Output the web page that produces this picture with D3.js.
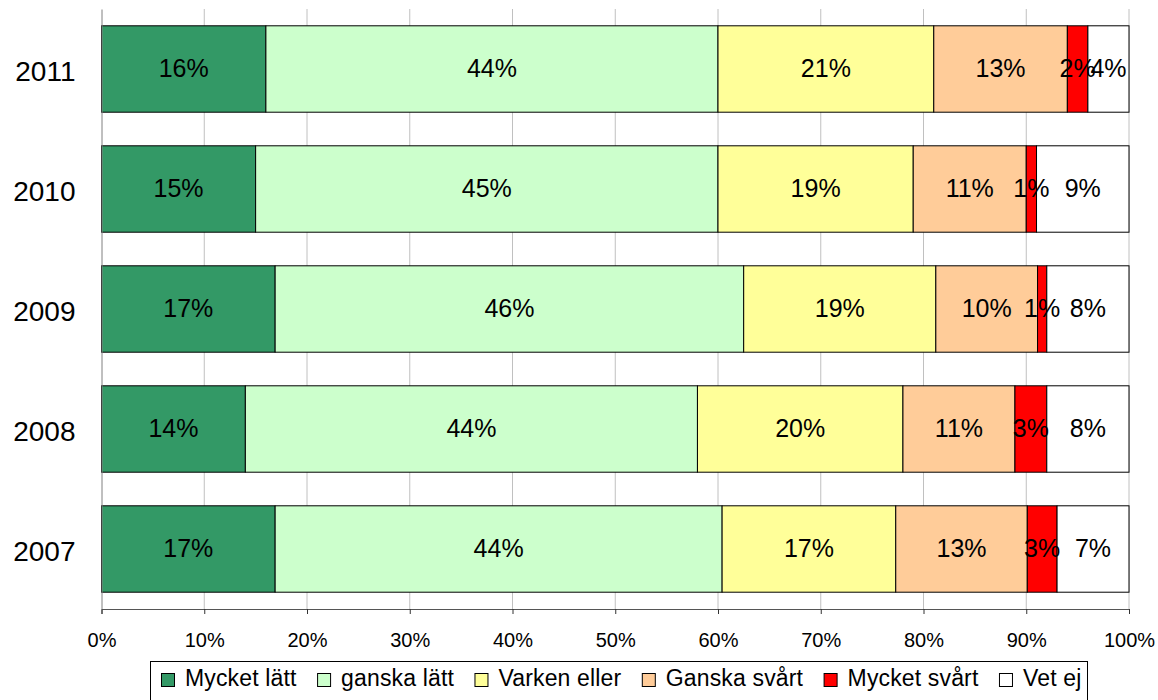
<!DOCTYPE html>
<html>
<head>
<meta charset="utf-8">
<script src="https://cdn.jsdelivr.net/npm/d3@7"></script>
<style>
  body { margin: 0; background: #fff; }
  svg { font-family: 'Liberation Sans', Arial, sans-serif; }
</style>
</head>
<body>
<div class="chart"></div>
<script>
// years, top to bottom
var years = ['2011', '2010', '2009', '2008', '2007'];
// answer categories
var categories = ['Mycket lätt', 'ganska lätt', 'Varken eller', 'Ganska svårt', 'Mycket svårt', 'Vet ej'];
var colors = ['#339966', '#ccffcc', '#ffff99', '#ffcc99', '#ff0000', '#ffffff'];
// share per category (percent), one array per year
var values2011 = [16, 44, 21, 13, 2, 4];
var values2010 = [15, 45, 19, 11, 1, 9];
var values2009 = [16.9, 45.6, 18.7, 9.9, 0.9, 8];
var values2008 = [14, 44, 20, 10.9, 3.1, 8];
var values2007 = [16.9, 43.5, 16.9, 12.8, 2.9, 7];
var tickValues = [0, 10, 20, 30, 40, 50, 60, 70, 80, 90, 100];

var rows = [values2011, values2010, values2009, values2008, values2007];

var svgWidth = 1158;
var svgHeight = 700;

var xScale = d3.scaleLinear()
    .domain([0, 100])
    .range([101.5, 1129]);

var yScale = d3.scaleBand()
    .domain(years)
    .range([9, 609])
    .paddingInner(0.28)
    .paddingOuter(0.14);

var svg = d3.select('.chart').append('svg')
    .attr('width', svgWidth)
    .attr('height', svgHeight);

// vertical gridlines
svg.append('g').selectAll('line')
    .data(tickValues.slice(1))
    .enter()
    .append('line')
    .attr('x1', function(d) { return xScale(d); })
    .attr('x2', function(d) { return xScale(d); })
    .attr('y1', 9)
    .attr('y2', 609)
    .attr('stroke', '#c0c0c0')
    .attr('stroke-width', 1);

// build stacked segments
var segments = [];
rows.forEach(function(vals, i) {
    var start = 0;
    vals.forEach(function(v, j) {
        segments.push({ year: years[i], cat: j, x0: start, x1: start + v, value: v });
        start += v;
    });
});

var bars = svg.append('g');
bars.selectAll('rect')
    .data(segments)
    .enter()
    .append('rect')
    .attr('x', function(d) { return xScale(d.x0); })
    .attr('width', function(d) { return xScale(d.x1) - xScale(d.x0); })
    .attr('y', function(d) { return yScale(d.year); })
    .attr('height', yScale.bandwidth())
    .attr('fill', function(d) { return colors[d.cat]; })
    .attr('stroke', '#000')
    .attr('stroke-width', 1);

bars.selectAll('text')
    .data(segments)
    .enter()
    .append('text')
    .attr('x', function(d) { return (xScale(d.x0) + xScale(d.x1)) / 2; })
    .attr('y', function(d) { return yScale(d.year) + yScale.bandwidth() / 2; })
    .attr('dy', '0.33em')
    .attr('text-anchor', 'middle')
    .style('font-size', '25px')
    .attr('fill', '#000')
    .text(function(d) { return Math.round(d.value) + '%'; });

// x axis
var xAxis = d3.axisBottom(xScale)
    .tickValues(tickValues)
    .tickSize(5)
    .tickPadding(18.5)
    .tickFormat(function(d) { return d + '%'; });

svg.append('g')
    .attr('transform', 'translate(0,609)')
    .style('font-size', '20px')
    .style('font-family', "'Liberation Sans', Arial, sans-serif")
    .call(xAxis)
    .call(function(g) {
        g.select('.domain').attr('stroke', '#555');
        g.selectAll('.tick line').attr('stroke', '#333');
        g.selectAll('.tick text').attr('fill', '#000');
    });

// y axis
var yAxis = d3.axisLeft(yScale)
    .tickSize(0)
    .tickPadding(26);

svg.append('g')
    .attr('transform', 'translate(101.5,0)')
    .style('font-size', '28px')
    .style('font-family', "'Liberation Sans', Arial, sans-serif")
    .call(yAxis)
    .call(function(g) {
        g.select('.domain').attr('stroke', '#808080');
        g.selectAll('.tick text').attr('fill', '#000').attr('dy', '0.42em');
    });

// legend
var legend = svg.append('g');
legend.append('rect')
    .attr('x', 150.5)
    .attr('y', 661.5)
    .attr('width', 937)
    .attr('height', 50)
    .attr('fill', '#fff')
    .attr('stroke', '#000')
    .attr('stroke-width', 1);

var lx = 161.5;
categories.forEach(function(c, i) {
    legend.append('rect')
        .attr('x', lx)
        .attr('y', 673.5)
        .attr('width', 13)
        .attr('height', 13)
        .attr('fill', colors[i])
        .attr('stroke', '#000')
        .attr('stroke-width', 1);
    var t = legend.append('text')
        .attr('x', lx + 23.5)
        .attr('y', 686)
        .style('font-size', '23px')
        .style('letter-spacing', '0.15px')
        .attr('fill', '#000')
        .text(c);
    lx += 23.5 + t.node().getComputedTextLength() + 21;
});
</script>
</body>
</html>
